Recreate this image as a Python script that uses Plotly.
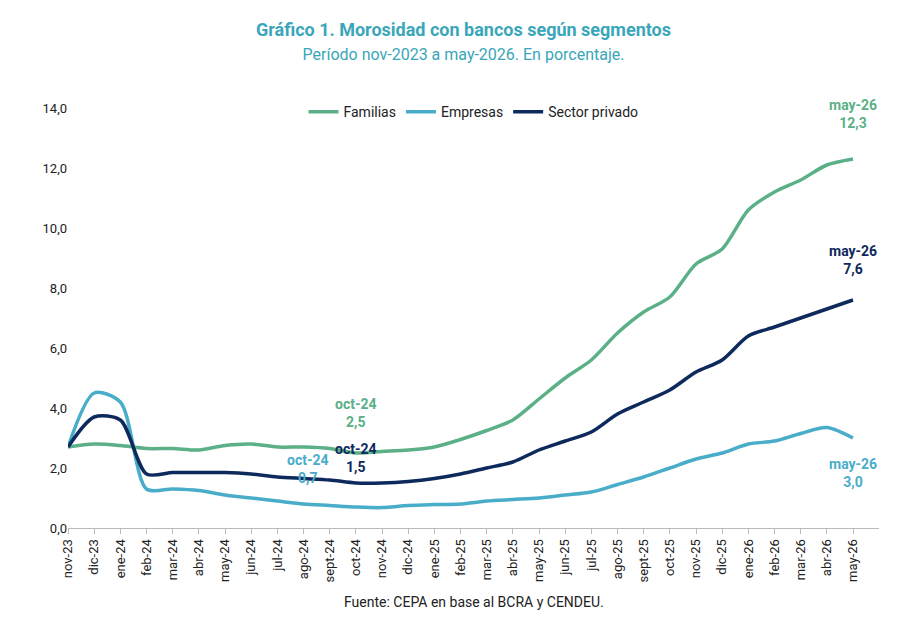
import plotly.graph_objects as go

meses = ["nov-23", "dic-23", "ene-24", "feb-24", "mar-24", "abr-24", "may-24", "jun-24",
         "jul-24", "ago-24", "sept-24", "oct-24", "nov-24", "dic-24", "ene-25", "feb-25",
         "mar-25", "abr-25", "may-25", "jun-25", "jul-25", "ago-25", "sept-25", "oct-25",
         "nov-25", "dic-25", "ene-26", "feb-26", "mar-26", "abr-26", "may-26"]

familias = [2.7, 2.8, 2.75, 2.65, 2.65, 2.6, 2.75, 2.8, 2.7, 2.7, 2.65, 2.5, 2.55, 2.6, 2.7,
            2.95, 3.25, 3.6, 4.3, 5.0, 5.6, 6.5, 7.2, 7.7, 8.8, 9.3, 10.6, 11.2, 11.6, 12.1, 12.3]
empresas = [2.7, 4.5, 4.2, 1.3, 1.3, 1.25, 1.1, 1.0, 0.9, 0.8, 0.75, 0.7, 0.68, 0.75, 0.78,
            0.8, 0.9, 0.95, 1.0, 1.1, 1.2, 1.45, 1.7, 2.0, 2.3, 2.5, 2.8, 2.9, 3.15, 3.35, 3.0]
privado = [2.7, 3.7, 3.6, 1.8, 1.85, 1.85, 1.85, 1.8, 1.7, 1.65, 1.6, 1.5, 1.5, 1.55, 1.65,
           1.8, 2.0, 2.2, 2.6, 2.9, 3.2, 3.8, 4.2, 4.6, 5.2, 5.6, 6.4, 6.7, 7.0, 7.3, 7.6]

c_fam = "#5BB087"
c_emp = "#49ADC9"
c_pri = "#0E2A5C"

fig = go.Figure()
for nombre, vals, col in [("Familias", familias, c_fam), ("Empresas", empresas, c_emp),
                          ("Sector privado", privado, c_pri)]:
    fig.add_trace(go.Scatter(x=meses, y=vals, name=nombre, mode="lines",
                             line=dict(color=col, width=3.5, shape="spline", smoothing=0.8)))

etiquetas = [
    ("may-26", familias[-1], c_fam, 0, 45),
    ("may-26", privado[-1], c_pri, 0, 40),
    ("may-26", empresas[-1], c_emp, 0, -35),
    ("oct-24", familias[11], c_fam, 0, 40),
    ("oct-24", privado[11], c_pri, 0, 25),
    ("oct-24", empresas[11], c_emp, -48, 38),
]
for mes, v, col, dx, dy in etiquetas:
    fig.add_annotation(x=mes, y=v, text=f"<b>{mes}<br>{v:.1f}".replace(".", ",") + "</b>",
                       showarrow=False, xshift=dx, yshift=dy,
                       font=dict(color=col, size=14, family="Roboto"))

fig.update_layout(
    width=911, height=628, plot_bgcolor="white", paper_bgcolor="white",
    font=dict(family="Roboto", size=13, color="#222"),
    title=dict(text="<b>Gráfico 1. Morosidad con bancos según segmentos</b><br>"
                    "<span style='font-size:16px'>Período nov-2023 a may-2026. En porcentaje.</span>",
               x=0.5, y=0.955, xanchor="center", font=dict(size=18, color="#3AA6B9")),
    margin=dict(l=60, r=40, t=100, b=108),
    legend=dict(orientation="h", x=0.5, xanchor="center", y=0.99, yanchor="middle",
                font=dict(size=14)),
    showlegend=True,
    separators=",.",
)
fig.update_xaxes(tickangle=-90, showline=True, linecolor="#bbb", ticks="outside",
                 tickcolor="#bbb", showgrid=False, tickfont=dict(size=13))
fig.update_yaxes(range=[0, 14], dtick=2, tickformat=".1f",
                 showgrid=False, zeroline=False, tickfont=dict(size=13))
fig.add_annotation(text="Fuente: CEPA en base al BCRA y CENDEU.", xref="paper", yref="paper",
                   x=0.5, y=-0.2, showarrow=False, font=dict(size=14, color="#222"))

fig.write_html("out.html")
